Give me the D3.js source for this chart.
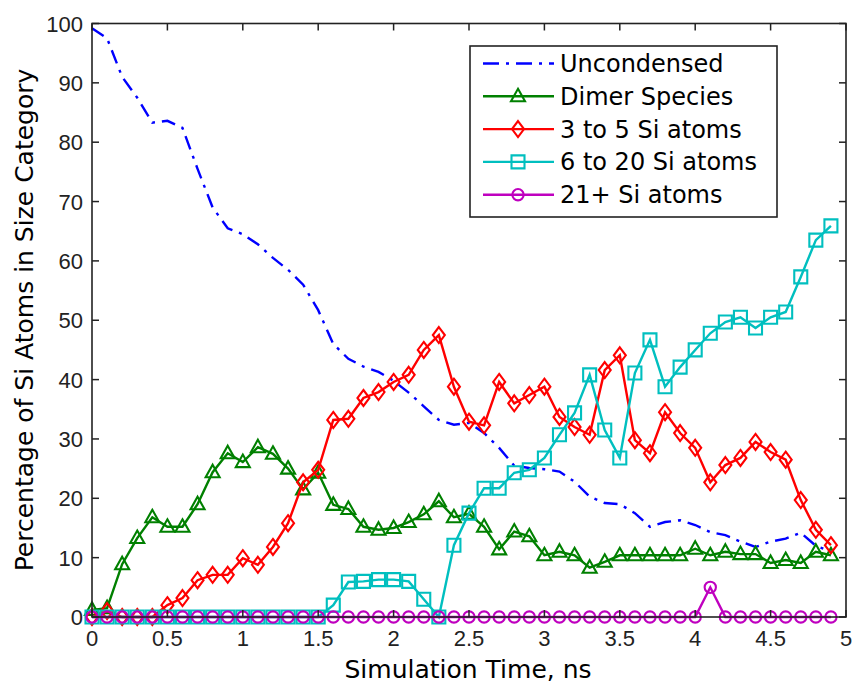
<!DOCTYPE html>
<html><head><meta charset="utf-8">
<script src="https://cdn.jsdelivr.net/npm/d3@7"></script>
<style>body{margin:0;background:#fff}</style>
</head><body>
<svg id="c" width="853" height="683"></svg>
<script>
const times = d3.range(50).map(i => +(i * 0.1).toFixed(1));
const uncondensed = [99.2,97.5,91,87.5,83.3,83.6,82.4,75.5,69,65.5,64.5,62.8,60.5,58.5,56,51.7,46,43.5,42.2,41.3,39.8,37.8,35.5,33.2,32.4,32.7,31,28.5,25.5,25.1,24.9,24.5,22.8,20.3,19.2,19,17.5,15.2,16,16.3,15.5,14.3,13.8,12.7,11.8,12.7,13.2,14.2,12,11];
const dimer = [1.2,1.5,8.9,13.3,16.8,15.2,15.2,19,24.4,27.6,26.1,28.6,27.5,25,21.5,24.3,18.9,18.2,15.2,14.7,15,16,17.3,19.5,16.8,17.4,15.2,11.4,14.4,13.6,10.4,11,10.4,8.3,9.3,10.4,10.4,10.4,10.4,10.4,11.5,10.4,11,10.6,10.6,9.1,9.6,9.1,11,10.4];
const small = [0,1,0,0,0,2,3.2,6.2,7.1,7.1,9.9,8.8,11.8,15.8,22.7,24.8,33.2,33.4,36.9,37.9,39.6,40.8,45,47.5,38.8,32.9,32.3,39.6,36,37.4,38.8,33.7,32,30.7,41.6,44.1,29.8,27.6,34.5,31,28.5,22.7,25.6,26.8,29.5,27.8,26.5,19.7,14.7,12.1];
const medium = [0,0,0,0,0,0,0,0,0,0,0,0,0,0,0,0,2,5.9,6,6.3,6.3,6,3,0,12.1,17.5,21.7,21.7,24.3,24.8,26.8,30.7,34.4,40.8,31.5,26.8,41.1,46.7,38.8,42.1,45,47.8,49.7,50.5,48.7,50.5,51.4,57.3,63.5,65.9];
const large = [0,0,0,0,0,0,0,0,0,0,0,0,0,0,0,0,0,0,0,0,0,0,0,0,0,0,0,0,0,0,0,0,0,0,0,0,0,0,0,0,0,5,0,0,0,0,0,0,0,0];
const seriesNames = ["Uncondensed","Dimer Species","3 to 5 Si atoms","6 to 20 Si atoms","21+ Si atoms"];
const seriesColors = ["#0000ff","#008000","#ff0000","#00bfbf","#bf00bf"];
const seriesMarkers = ["none","triangle","diamond","square","circle"];
const xTicks = [0,0.5,1,1.5,2,2.5,3,3.5,4,4.5,5];
const yTicks = [0,10,20,30,40,50,60,70,80,90,100];

const seriesData = [uncondensed, dimer, small, medium, large];
const svg = d3.select("#c");
const L = 92, R = 846, T = 23.5, B = 617;
const x = d3.scaleLinear().domain([0,5]).range([L,R]);
const y = d3.scaleLinear().domain([0,100]).range([B,T]);

function markerPath(kind){
  if(kind==="triangle") return "M0,-7.5L7,5L-7,5Z";
  if(kind==="diamond") return "M0,-8L6,0L0,8L-6,0Z";
  if(kind==="square") return "M-6.5,-6.5H6.5V6.5H-6.5Z";
  if(kind==="circle") return d3.symbol(d3.symbolCircle, 100)();
  return null;
}

const line = d3.line().x((d,i)=>x(times[i])).y(d=>y(d));
const plot = svg.append("g");
seriesData.forEach((vals, s) => {
  const g = plot.append("g");
  g.append("path").datum(vals).attr("d", line)
    .attr("fill","none").attr("stroke",seriesColors[s]).attr("stroke-width",2.4)
    .attr("stroke-dasharray", s===0 ? "14,7,3,7" : null);
  const mp = markerPath(seriesMarkers[s]);
  if(mp){
    g.selectAll("path.m").data(vals).join("path").attr("class","m")
      .attr("d", mp)
      .attr("transform",(d,i)=>`translate(${x(times[i])},${y(d)})`)
      .attr("fill","none").attr("stroke",seriesColors[s]).attr("stroke-width",2.1);
  }
});

// axes box and ticks
const ax = svg.append("g");
ax.append("rect").attr("x",L).attr("y",T).attr("width",R-L).attr("height",B-T)
  .attr("fill","none").attr("stroke","#222").attr("stroke-width",1.6);
const tl = 7;
xTicks.forEach(t=>{
  ax.append("line").attr("x1",x(t)).attr("x2",x(t)).attr("y1",B).attr("y2",B-tl).attr("stroke","#222").attr("stroke-width",1.5);
  ax.append("line").attr("x1",x(t)).attr("x2",x(t)).attr("y1",T).attr("y2",T+tl).attr("stroke","#222").attr("stroke-width",1.5);
  ax.append("text").attr("x",x(t)).attr("y",646).attr("text-anchor","middle")
    .attr("font-family","Liberation Sans, Arial, sans-serif").attr("font-size",22).attr("fill","#222").text(String(t));
});
yTicks.forEach(t=>{
  ax.append("line").attr("x1",L).attr("x2",L+tl).attr("y1",y(t)).attr("y2",y(t)).attr("stroke","#222").attr("stroke-width",1.5);
  ax.append("line").attr("x1",R).attr("x2",R-tl).attr("y1",y(t)).attr("y2",y(t)).attr("stroke","#222").attr("stroke-width",1.5);
  ax.append("text").attr("x",83).attr("y",y(t)+8).attr("text-anchor","end")
    .attr("font-family","Liberation Sans, Arial, sans-serif").attr("font-size",22).attr("fill","#222").text(String(t));
});
svg.append("text").attr("x",468).attr("y",678).attr("text-anchor","middle")
  .attr("font-family","DejaVu Sans, sans-serif").attr("font-size",25).attr("fill","#000")
  .text("Simulation Time, ns");
svg.append("text").attr("transform","translate(33,320) rotate(-90)").attr("text-anchor","middle")
  .attr("font-family","DejaVu Sans, sans-serif").attr("font-size",25).attr("fill","#000")
  .text("Percentage of Si Atoms in Size Category");

// legend
const lg = svg.append("g");
lg.append("rect").attr("x",470).attr("y",46).attr("width",307).attr("height",171)
  .attr("fill","#fff").attr("stroke","#222").attr("stroke-width",1.6);
seriesNames.forEach((name,s)=>{
  const cy = 63.5 + s*32.8;
  lg.append("line").attr("x1",483).attr("x2",554).attr("y1",cy).attr("y2",cy)
    .attr("stroke",seriesColors[s]).attr("stroke-width",2.4)
    .attr("stroke-dasharray", s===0 ? "16,7,3,7" : null);
  const mp = markerPath(seriesMarkers[s]);
  if(mp) lg.append("path").attr("d",mp).attr("transform",`translate(518,${cy})`)
    .attr("fill","none").attr("stroke",seriesColors[s]).attr("stroke-width",2.1);
  lg.append("text").attr("x",560).attr("y",cy+8.5)
    .attr("font-family","DejaVu Sans, sans-serif").attr("font-size",24).attr("fill","#000").text(name);
});
</script>
</body></html>
